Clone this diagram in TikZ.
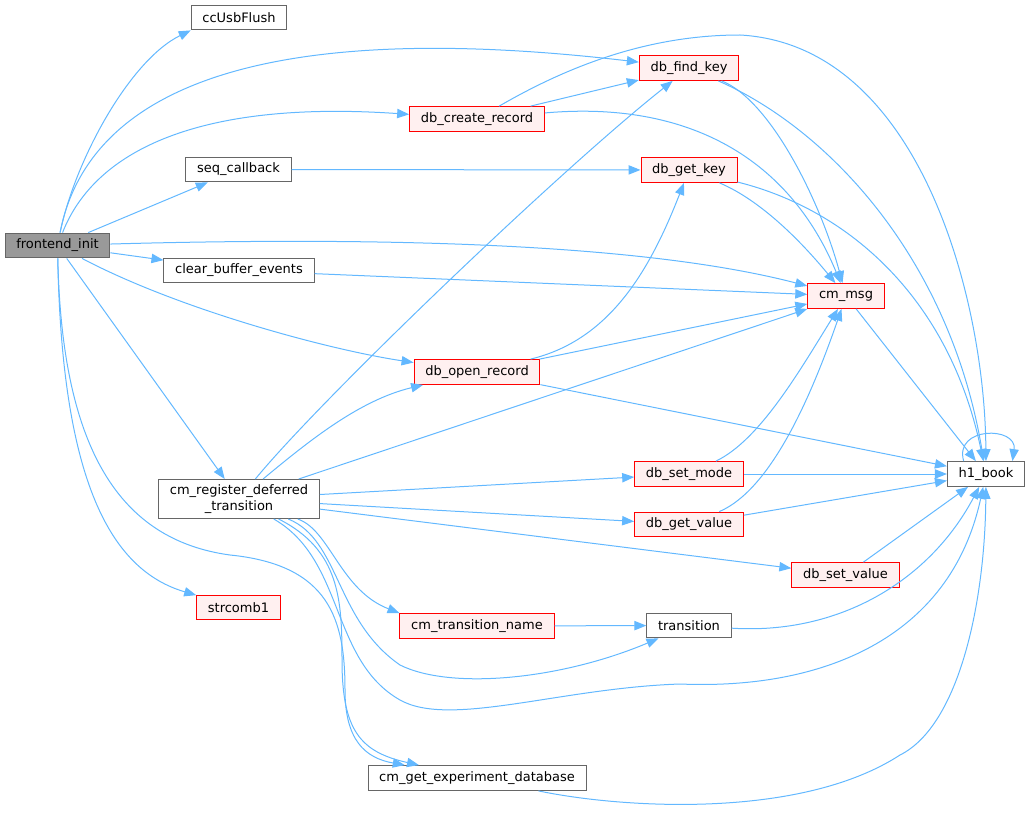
\documentclass[tikz,border=0pt]{standalone}
\usepackage{fontspec}
\setmainfont{DejaVu Sans}
\usetikzlibrary{arrows.meta}
\definecolor{edgeblue}{HTML}{63B8FF}
\definecolor{redfill}{HTML}{FFF0F0}
\definecolor{boxgray}{HTML}{666666}
\definecolor{rootgray}{HTML}{999999}

\begin{document}
\begin{tikzpicture}[x=0.75pt,y=-0.75pt,
    every node/.style={draw=boxgray,fill=white,line width=0.75pt,inner xsep=8.4pt,inner ysep=0pt,
      minimum height=18.6pt,font=\fontsize{9.75}{12}\selectfont},
    redbox/.style={draw=red,fill=redfill},
    rootbox/.style={fill=rootgray},
    edge/.style={draw=edgeblue,line width=0.75pt,-{Triangle[length=9pt,width=7pt]}}]
  \useasboundingbox (0,0) rectangle (1031,813);

  \node[rootbox] (fi) at (57.5,245.5) {frontend\_init};
  \node (ccusb) at (239,17.5) {ccUsbFlush};
  \node (seqcb) at (238.5,169.5) {seq\_callback};
  \node (clrbuf) at (239,270.5) {clear\_buffer\_events};
  \node[align=center,minimum height=29.25pt] (cmreg) at (239,499) {cm\_register\_deferred\\\_transition};
  \node[redbox] (strc) at (238.5,607.5) {strcomb1};
  \node[redbox] (findkey) at (689,68) {db\_find\_key};
  \node[redbox] (createrec) at (477,119) {db\_create\_record};
  \node[redbox] (getkey) at (689,170) {db\_get\_key};
  \node[redbox] (cmmsg) at (846,296) {cm\_msg};
  \node[redbox] (openrec) at (477,372) {db\_open\_record};
  \node[redbox] (setmode) at (689,474) {db\_set\_mode};
  \node[redbox] (getvalue) at (689,524.5) {db\_get\_value};
  \node[redbox] (setvalue) at (845.5,575) {db\_set\_value};
  \node (h1book) at (986,474) {h1\_book};
  \node (trans) at (689,625.5) {transition};
  \node[redbox] (trname) at (477,626) {cm\_transition\_name};
  \node (getexp) at (477,778) {cm\_get\_experiment\_database};

  \foreach \a/\b in {fi/seqcb,fi/clrbuf,fi/cmreg,seqcb/getkey,clrbuf/cmmsg,createrec/findkey,
      openrec/cmmsg,openrec/h1book,cmmsg/h1book,cmreg/setmode,cmreg/getvalue,cmreg/setvalue,
      setmode/h1book,getvalue/h1book,setvalue/h1book,trname/trans}
    \draw[edge] (\a) -- (\b);
  \draw[edge] (cmreg) -- (cmmsg.south west);

  \draw[edge] (fi) .. controls (75,160) and (130,60) .. (ccusb.south west);
  \draw[edge] (fi) .. controls (90,80) and (280,20) .. (findkey);
  \draw[edge] (fi) .. controls (95,150) and (200,100) .. (createrec);
  \draw[edge] (fi) .. controls (400,236) and (650,245) .. (cmmsg);
  \draw[edge] (fi) .. controls (180,310) and (330,350) .. (openrec);
  \draw[edge] (fi) .. controls (62,480) and (110,570) .. (strc);
  \draw[edge] (fi) .. controls (62,450) and (120,540) .. (230,555) .. controls (330,565) and (345,620) .. (345,690)
    .. controls (345,740) and (365,758) .. (getexp);
  \draw[edge] (createrec) .. controls (570,65) and (650,35) .. (740,35) .. controls (920,45) and (985,300) .. (h1book);
  \draw[edge] (createrec) .. controls (690,100) and (790,160) .. (cmmsg);
  \draw[edge] (findkey) .. controls (770,100) and (820,200) .. (cmmsg);
  \draw[edge] (findkey) .. controls (830,130) and (950,260) .. (h1book);
  \draw[edge] (getkey) .. controls (760,200) and (800,240) .. (cmmsg);
  \draw[edge] (getkey) .. controls (850,210) and (950,300) .. (h1book);
  \draw[edge] (cmreg) .. controls (320,400) and (560,170) .. (findkey);
  \draw[edge] (cmreg) .. controls (310,440) and (360,400) .. (openrec);
  \draw[edge] (cmreg) .. controls (330,530) and (340,590) .. (trname.north west);
  \draw[edge] (cmreg) .. controls (340,540) and (335,620) .. (400,665) .. controls (450,690) and (560,680) .. (trans);
  \draw[edge] (cmreg) .. controls (345,560) and (330,660) .. (400,700) .. controls (450,728) and (560,688) .. (680,684)
    .. controls (820,690) and (950,640) .. (h1book);
  \draw[edge] (cmreg) .. controls (340,550) and (342,600) .. (342,660) .. controls (342,730) and (360,752) .. (getexp);
  \draw[edge] (openrec) .. controls (610,340) and (650,270) .. (getkey);
  \draw[edge] (setmode) .. controls (760,440) and (800,370) .. (cmmsg);
  \draw[edge] (getvalue) .. controls (770,490) and (810,400) .. (cmmsg);
  \draw[edge] (trans) .. controls (840,635) and (930,580) .. (h1book);
  \draw[edge] (getexp) .. controls (620,808) and (800,820) .. (900,755) .. controls (960,725) and (985,600) .. (h1book);
  \draw[edge] (h1book.150) .. controls +(-10,-35) and +(5,-35) .. (h1book.26); % self call
\end{tikzpicture}
\end{document}
